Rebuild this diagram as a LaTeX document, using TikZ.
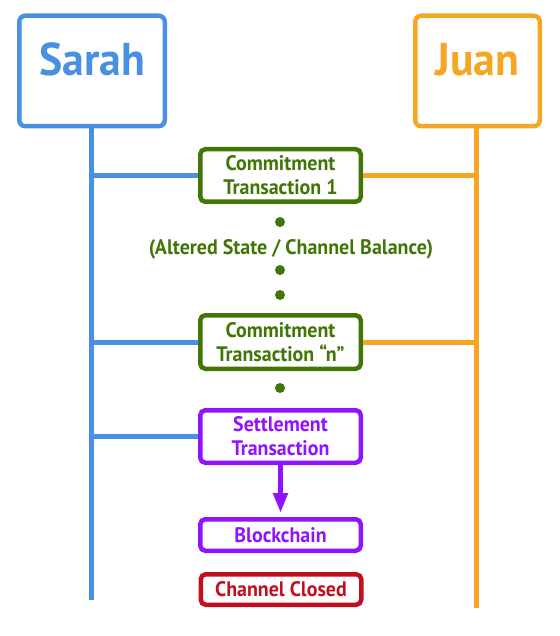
\documentclass[tikz,border=0pt]{standalone}
\usepackage{fontspec}
\setmainfont{PT Sans}[FakeStretch=0.95]
\usetikzlibrary{arrows.meta}
\definecolor{cblue}{HTML}{4A90E2}
\definecolor{corange}{HTML}{F5A623}
\definecolor{cgreen}{HTML}{417505}
\definecolor{cpurple}{HTML}{9013FE}
\definecolor{cred}{HTML}{C30E20}
\tikzset{
  party/.style={draw=#1, line width=4.5pt, rounded corners=6pt, inner sep=0pt, minimum height=110.5pt},
  namelbl/.style={text=#1, font=\bfseries\fontsize{46}{46}\selectfont},
  txbox/.style={draw=#1, text=#1, line width=4.5pt, rounded corners=5pt, inner sep=0pt,
     minimum width=160.5pt, align=center, font=\bfseries\fontsize{21}{24}\selectfont},
  lifeline/.style={draw=#1, line width=5pt},
  dotnode/.style={circle, fill=cgreen, inner sep=0pt, minimum size=10pt},
}
\begin{document}
\begin{tikzpicture}[x=1pt, y=-1pt]
\useasboundingbox (0,0) rectangle (559,636);
% parties
\node[party=cblue, minimum width=145.5pt,
      label={[namelbl=cblue, yshift=12pt]center:Sarah}] (sarah) at (92,71) {};
\node[party=corange, minimum width=124.5pt,
      label={[namelbl=corange, yshift=11pt]center:Juan}] (juan) at (477.5,71) {};
\coordinate (sarahend) at (91,600);
\coordinate (juanend) at (476,608);
\draw[lifeline=cblue] (sarah.south -| sarahend) -- (sarahend);
\draw[lifeline=corange] (juan.south -| juanend) -- (juanend);
% transactions
\node[txbox=cgreen, minimum height=52.5pt] (c1) at (280.5,175.5) {Commitment\\Transaction 1};
\node[dotnode] (d1) at (280,222) {};
\node[text=cgreen, font=\bfseries\fontsize{21}{24}\selectfont] (state) at (291,249) {(Altered State / Channel Balance)};
\node[dotnode] (d2) at (280,270) {};
\node[dotnode] (d3) at (280,295) {};
\node[txbox=cgreen, minimum height=53.5pt] (cn) at (280.5,342) {Commitment\\Transaction “n”};
\node[dotnode] (d4) at (280,388) {};
\node[txbox=cpurple, minimum height=52.5pt] (settle) at (280.5,436.5) {Settlement\\Transaction};
\node[txbox=cpurple, minimum height=31.5pt] (chain) at (280.5,535) {Blockchain};
\node[txbox=cred, minimum height=30.5pt] (closed) at (281,589.5) {Channel Closed};
% connectors
\draw[lifeline=cblue] (c1.west) -- (c1.west -| sarahend);
\draw[lifeline=corange] (c1.east) -- (c1.east -| juanend);
\draw[lifeline=cblue] (cn.west) -- (cn.west -| sarahend);
\draw[lifeline=corange] (cn.east) -- (cn.east -| juanend);
\draw[lifeline=cblue] (settle.west) -- (settle.west -| sarahend);
\draw[draw=cpurple, line width=5pt, -{Triangle[length=20pt, width=14pt]}, shorten >=4pt] (settle.south) -- (chain.north);
\end{tikzpicture}
\end{document}
